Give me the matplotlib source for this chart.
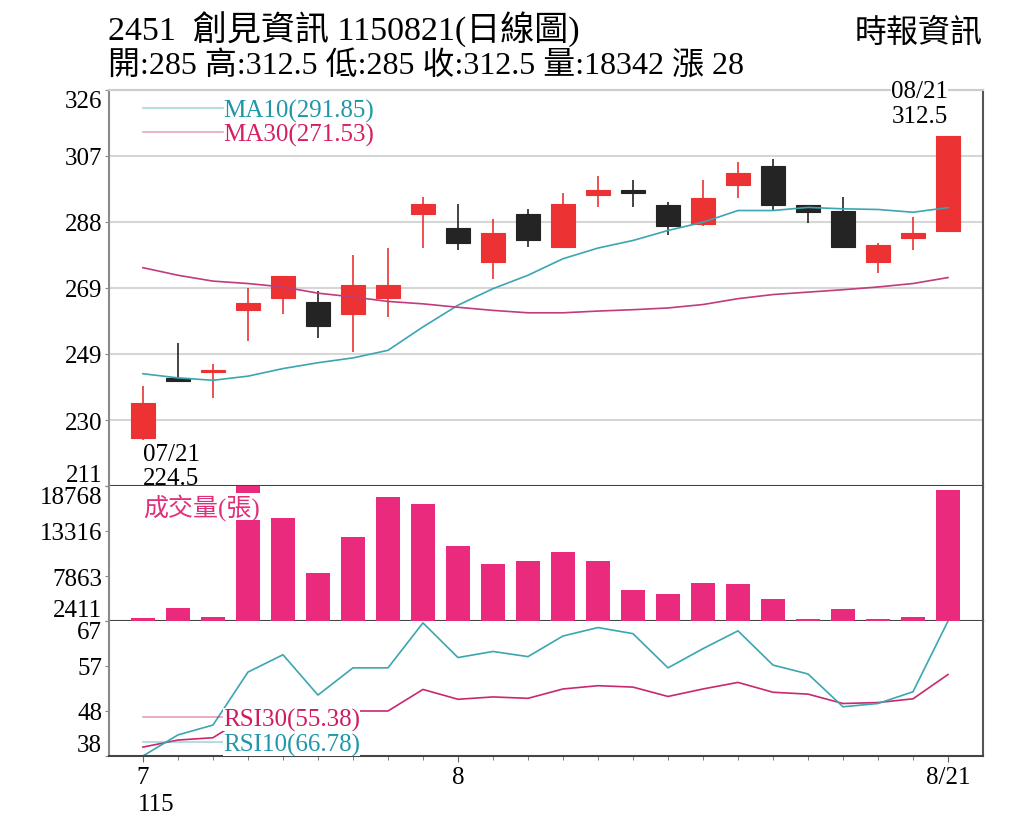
import matplotlib
matplotlib.use('Agg')
import matplotlib.pyplot as plt
import matplotlib.transforms as mtransforms
import numpy as np

plt.rcParams['font.family'] = ['Liberation Serif', 'Noto Sans CJK TC']

# --- data (07/21 .. 08/21, 24 trading days) ---
dates = ['07/21', '07/22', '07/23', '07/24', '07/25', '07/28', '07/29', '07/30',
         '07/31', '08/01', '08/04', '08/05', '08/06', '08/07', '08/08', '08/11',
         '08/12', '08/13', '08/14', '08/15', '08/18', '08/19', '08/20', '08/21']
opens = [225, 242.5, 244, 262, 265.5, 264.5, 261, 265.5, 290, 286, 276, 290,
         280.5, 295.5, 297, 292.5, 287, 298.5, 304, 292.5, 291, 276, 283, 285]
highs = [240, 252.5, 246.5, 268.5, 272, 267.5, 278, 280, 295, 293, 288.5, 291.5,
         296, 301, 300, 293.5, 300, 305, 306, 292.5, 295, 281.5, 289, 312.5]
lows = [224.5, 241.5, 236.5, 253, 261, 254, 250, 260, 280, 279.5, 271, 280.5,
        280.5, 292, 292, 284, 286.5, 294.5, 291, 287.5, 280.5, 273, 279.5, 285]
closes = [235, 241.5, 244.5, 264, 272, 257.5, 269.5, 269.5, 293, 281.5, 284.5, 282.5,
          293, 297, 296, 286.5, 294.5, 302, 292.5, 290.5, 280.5, 281, 284.5, 312.5]
volume = [2825, 3993, 2946, 20500, 14873, 8216, 12634, 17429, 16528, 11502, 9311, 9713,
          10808, 9713, 6184, 5697, 6963, 6900, 5088, 2618, 3920, 2703, 2898, 18342]
ma10 = [243.6, 242.4, 241.7, 242.9, 245.1, 246.8, 248.2, 250.4, 257.2, 263.5, 268.3, 272.2,
        277.0, 280.1, 282.3, 285.2, 287.6, 291.0, 291.0, 291.9, 291.5, 291.3, 290.5, 291.85]
ma30 = [274.4, 272.2, 270.5, 269.8, 268.8, 267.0, 265.9, 264.6, 263.9, 262.9, 262.0, 261.3,
        261.3, 261.8, 262.2, 262.7, 263.7, 265.4, 266.6, 267.3, 268.0, 268.8, 269.8, 271.53]
rsi10 = [38.0, 42.5, 44.6, 55.9, 59.6, 51.0, 56.8, 56.8, 66.4, 59.0, 60.3, 59.2,
         63.6, 65.4, 64.1, 56.8, 60.9, 64.7, 57.4, 55.5, 48.5, 49.2, 51.7, 66.78]
rsi30 = [39.9, 41.4, 41.9, 46.5, 48.0, 46.8, 47.6, 47.6, 52.2, 50.1, 50.6, 50.3,
         52.3, 53.0, 52.7, 50.7, 52.3, 53.7, 51.6, 51.2, 49.2, 49.4, 50.2, 55.38]

price_range = (211, 326)
vol_range = (2411, 18768)
rsi_range = (38.0, 66.8)

RED = '#EC3232'
DARK = '#242424'
PINK = '#EA2A7C'
TEAL = '#3AA6B2'
MAG = '#C03C7C'
GRID = '#D6D6D6'

o = np.array(opens); c = np.array(closes)
x = np.arange(len(dates))
up = c >= o
cols = [RED if u else DARK for u in up]

fig = plt.figure(figsize=(10.24, 8.28), dpi=100)
L, W = 109 / 1024, 874 / 1024
ax1 = fig.add_axes([L, 1 - 487 / 828, W, 396 / 828])
ax2 = fig.add_axes([L, 1 - 622 / 828, W, 135 / 828], sharex=ax1)
ax3 = fig.add_axes([L, 1 - 757 / 828, W, 135 / 828], sharex=ax1)

# ---- price panel ----
ax1.vlines(x, lows, highs, colors=cols, linewidth=1.2, zorder=2)
ax1.bar(x, np.maximum(np.abs(c - o), 0.7), bottom=np.minimum(o, c), width=0.69,
        color=cols, edgecolor=cols, linewidth=0.8, zorder=3)
ax1.plot(x, ma10, color=TEAL, lw=1.2, zorder=4, label='MA10(%.2f)' % ma10[-1])
ax1.plot(x, ma30, color=MAG, lw=1.2, zorder=4, label='MA30(%.2f)' % ma30[-1])
ax1.set_ylim(*price_range)
pt = np.linspace(price_range[0], price_range[1], 7)
ax1.set_yticks(pt)
ax1.set_yticklabels([str(int(v + 0.5)) for v in pt])
ax1.yaxis.grid(True, color=GRID, lw=1.5)
ax1.set_axisbelow(True)
leg = ax1.legend(loc='upper left', bbox_to_anchor=(0.039, 0.978), frameon=False,
                 fontsize=18, handlelength=3.2, handletextpad=0.0, labelspacing=0.05,
                 borderpad=0, borderaxespad=0)
for t, h, col in zip(leg.get_texts(), leg.legend_handles, ['#1F97A8', '#D81E62']):
    t.set_color(col)
    h.set_alpha(0.45)

ax1.text(x[0], 220.3, dates[0], fontsize=18, ha='left', va='center', zorder=6)
ax1.text(x[0], 213.3, '%g' % lows[0], fontsize=18, ha='left', va='center', zorder=6)
ax1.text(x[-1], 325.7, dates[-1], fontsize=18, ha='right', va='center', zorder=6,
         bbox=dict(facecolor='white', edgecolor='none', pad=0))
ax1.text(x[-1], 318.4, '%g' % highs[-1], fontsize=18, ha='right', va='center', zorder=6,
         bbox=dict(facecolor='white', edgecolor='none', pad=0))

# ---- volume panel ----
ax2.bar(x, volume, width=0.7, color=PINK, zorder=3)
ax2.set_ylim(*vol_range)
vt = np.linspace(vol_range[0], vol_range[1], 4)
ax2.set_yticks(vt)
ax2.set_yticklabels([str(int(v + 0.5)) for v in vt])
ax2.text(0.039, 0.85, '成交量(張)', transform=ax2.transAxes, fontsize=18, color='#E0307A',
         ha='left', va='center', zorder=6,
         bbox=dict(facecolor='white', edgecolor='none', pad=0))

# ---- RSI panel ----
ax3.plot(x, rsi30, color='#C8286E', lw=1.2, label='RSI30(%.2f)' % rsi30[-1])
ax3.plot(x, rsi10, color=TEAL, lw=1.2, label='RSI10(%.2f)' % rsi10[-1])
ax3.set_ylim(*rsi_range)
rt = np.linspace(rsi_range[0], rsi_range[1], 4)
ax3.set_yticks(rt)
ax3.set_yticklabels([str(int(v + 0.5)) for v in rt])
leg3 = ax3.legend(loc='lower left', bbox_to_anchor=(0.039, 0.0), frameon=False,
                  fontsize=18, handlelength=3.2, handletextpad=0.0, labelspacing=0.08,
                  borderpad=0, borderaxespad=0)
for t, h, col in zip(leg3.get_texts(), leg3.legend_handles, ['#D01A60', '#1F97A8']):
    t.set_color(col)
    t.set_bbox(dict(facecolor='white', edgecolor='none', pad=0))
    h.set_alpha(0.45)

# x axis: month starts + last day
major = [0] + [i for i in range(1, len(dates)) if dates[i][:2] != dates[i - 1][:2]] + [len(dates) - 1]
mlabels = [str(int(dates[i][:2])) for i in major[:-1]] + [dates[-1].lstrip('0')]
ax3.set_xticks(major)
ax3.set_xticklabels(mlabels)
ax3.set_xticks(x, minor=True)
ax3.set_xlim(-0.97, 24.0)
ax3.text(x[0] - 0.15, -0.355, '115', transform=mtransforms.blended_transform_factory(ax3.transData, ax3.transAxes),
         fontsize=18, ha='left', va='center')

for ax in (ax1, ax2, ax3):
    ax.tick_params(axis='y', direction='out', length=3, color='#888888', labelsize=18, pad=2)
    ax.spines['left'].set_color('#8A8A8A')
    ax.spines['right'].set_color('#555555')
    ax.spines['bottom'].set_color('#444444')
    ax.spines['top'].set_color('#CCCCCC')
    for s in ax.spines.values():
        s.set_linewidth(1.5)
    labs = ax.get_yticklabels()
    labs[0].set_va('bottom')
    labs[-1].set_va('top')
for ax in (ax1, ax2):
    ax.tick_params(axis='x', bottom=False, labelbottom=False)
ax2.spines['top'].set_visible(False)
ax3.spines['top'].set_visible(False)
ax3.tick_params(axis='x', which='major', length=4, color='#666666', labelsize=18, pad=3)
ax3.tick_params(axis='x', which='minor', length=3, color='#666666')

# ---- header ----
fig.text(108 / 1024, 1 - 30 / 828, '2451  創見資訊 1150821(日線圖)', fontsize=24.5, ha='left', va='center')
fig.text(108 / 1024, 1 - 67 / 828, '開:285 高:312.5 低:285 收:312.5 量:18342 漲 28',
         fontsize=23, ha='left', va='center')
fig.text(983 / 1024, 1 - 34 / 828, '時報資訊', fontsize=23, ha='right', va='center')

fig.savefig('out.png', dpi=100)
